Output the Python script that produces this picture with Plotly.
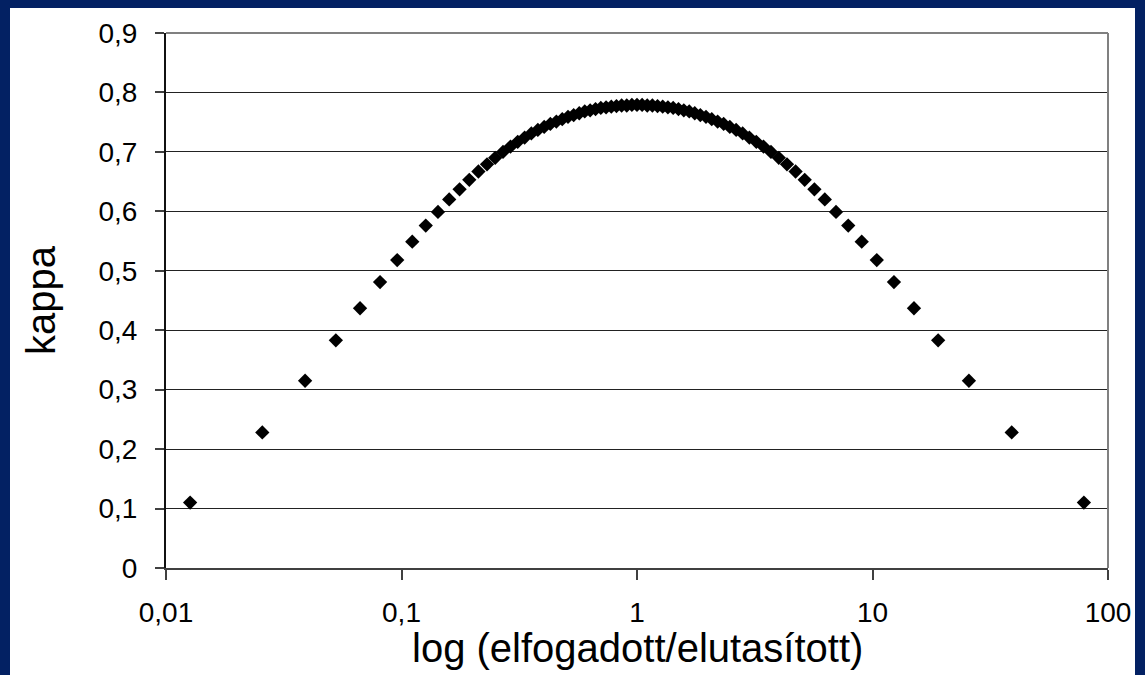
import plotly.graph_objects as go

# ratio of accepted / rejected (x) and kappa (y)
ratio = [0.01266, 0.02564, 0.03896, 0.05263, 0.06667, 0.08108, 0.09589, 0.11111,
         0.12676, 0.14286, 0.15942, 0.17647, 0.19403, 0.21212, 0.23077, 0.25,
         0.26984, 0.29032, 0.31148, 0.33333, 0.35593, 0.37931, 0.40351, 0.42857,
         0.45455, 0.48148, 0.50943, 0.53846, 0.56863, 0.6, 0.63265, 0.66667,
         0.70213, 0.73913, 0.77778, 0.81818, 0.86047, 0.90476, 0.95122, 1.0,
         1.05128, 1.10526, 1.16216, 1.22222, 1.28571, 1.35294, 1.42424, 1.5,
         1.58065, 1.66667, 1.75862, 1.85714, 1.96296, 2.07692, 2.2, 2.33333,
         2.47826, 2.63636, 2.80952, 3.0, 3.21053, 3.44444, 3.70588, 4.0,
         4.33333, 4.71429, 5.15385, 5.66667, 6.27273, 7.0, 7.88889, 9.0,
         10.42857, 12.33333, 15.0, 19.0, 25.66667, 39.0, 79.0]

kappa = [0.110, 0.228, 0.315, 0.383, 0.437, 0.481, 0.518, 0.549,
         0.576, 0.599, 0.620, 0.637, 0.653, 0.667, 0.679, 0.690,
         0.700, 0.709, 0.717, 0.724, 0.731, 0.737, 0.742, 0.747,
         0.751, 0.755, 0.759, 0.762, 0.765, 0.768, 0.770, 0.772,
         0.774, 0.775, 0.776, 0.777, 0.778, 0.778, 0.779, 0.779,
         0.779, 0.778, 0.778, 0.777, 0.776, 0.775, 0.774, 0.772,
         0.770, 0.768, 0.765, 0.762, 0.759, 0.755, 0.751, 0.747,
         0.742, 0.737, 0.731, 0.724, 0.717, 0.709, 0.700, 0.690,
         0.679, 0.667, 0.653, 0.637, 0.620, 0.599, 0.576, 0.549,
         0.518, 0.481, 0.437, 0.383, 0.315, 0.228, 0.110]

x_tickvals = [0.01, 0.1, 1, 10, 100]
x_ticktext = ["0,01", "0,1", "1", "10", "100"]
y_tickvals = [0, 0.1, 0.2, 0.3, 0.4, 0.5, 0.6, 0.7, 0.8, 0.9]
y_ticktext = ["0", "0,1", "0,2", "0,3", "0,4", "0,5", "0,6", "0,7", "0,8", "0,9"]

x_title = "log (elfogadott/elutasított)"
y_title = "kappa"

FONT = "Liberation Sans, Arial, sans-serif"

fig = go.Figure()
fig.add_trace(go.Scatter(
    x=ratio, y=kappa, mode="markers",
    marker=dict(symbol="diamond", size=11, color="black", line=dict(width=0)),
    showlegend=False, hoverinfo="x+y",
))

W, H = 1145, 675
L, R, T, B = 166, 37, 33, 107
pw, ph = W - L - R, H - T - B

fig.update_layout(
    width=W, height=H,
    margin=dict(l=L, r=R, t=T, b=B, pad=0),
    paper_bgcolor="#032163",
    plot_bgcolor="white",
    template="none",
    font=dict(family=FONT, color="black", size=28),
    shapes=[
        dict(type="rect", xref="paper", yref="paper",
             x0=(10 - L) / pw, x1=(1135 - L) / pw,
             y0=-(H - (T + ph)) / ph - 0.01, y1=(T + ph - 8) / ph,
             fillcolor="white", line=dict(width=0), layer="below"),
        dict(type="line", xref="paper", yref="paper", x0=0, x1=1, y0=1, y1=1,
             line=dict(color="#808080", width=2), layer="above"),
        dict(type="line", xref="paper", yref="paper", x0=1, x1=1, y0=0, y1=1,
             line=dict(color="#808080", width=2), layer="above"),
    ],
    annotations=[
        dict(text=x_title, xref="paper", yref="paper",
             x=0.5, y=-(648 - (T + ph)) / ph, xanchor="center", yanchor="middle",
             showarrow=False, font=dict(family=FONT, size=40, color="black")),
    ],
)

fig.update_xaxes(
    type="log", range=[-2, 2],
    tickmode="array", tickvals=x_tickvals, ticktext=x_ticktext,
    ticks="outside", ticklen=10, tickwidth=1.5, tickcolor="#404040",
    tickfont=dict(family=FONT, size=28, color="black"),
    ticklabelstandoff=8,
    showgrid=False, zeroline=False,
    showline=True, linecolor="#404040", linewidth=2,
    automargin=False,
)

fig.update_yaxes(
    range=[0, 0.9],
    tickmode="array", tickvals=y_tickvals, ticktext=y_ticktext,
    ticks="outside", ticklen=9, tickwidth=1.5, tickcolor="#404040",
    tickfont=dict(family=FONT, size=28, color="black"),
    ticklabelstandoff=12,
    showgrid=True, gridcolor="#222222", gridwidth=1,
    zeroline=False,
    showline=True, linecolor="#111111", linewidth=2,
    automargin=False,
    title=dict(text=y_title, font=dict(family=FONT, size=40, color="black"),
               standoff=30),
)

fig.write_html("out.html")
